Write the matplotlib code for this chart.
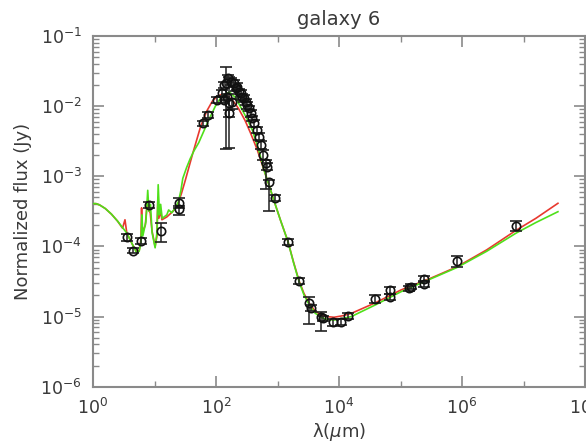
import numpy as np
import matplotlib
matplotlib.use("Agg")
import matplotlib.pyplot as plt
from matplotlib.ticker import LogLocator, LogFormatterMathtext, NullFormatter, FixedLocator

# ---------------- data (log10 values) ----------------
# observed photometry: log10(wavelength/um), log10(flux/Jy), error up/down (dex)
obs_logw = [0.56, 0.658, 0.78, 0.914, 1.105, 1.404, 1.404,
            1.79, 1.87, 2.02, 2.101, 2.127, 2.127, 2.155, 2.183, 2.193, 2.209, 2.209,
            2.237, 2.264, 2.291, 2.318, 2.346, 2.372, 2.40, 2.428, 2.454, 2.482,
            2.509, 2.536, 2.563, 2.591, 2.617, 2.661, 2.699, 2.727, 2.771, 2.808,
            2.836, 2.862, 2.955, 3.172, 3.352, 3.515, 3.543, 3.706, 3.734, 3.897,
            4.033, 4.152, 4.588, 4.837, 4.837, 5.131, 5.176, 5.376, 5.376, 5.922, 6.878]
obs_logf = [-3.87, -4.06, -3.92, -3.41, -3.78, -3.38, -3.47,
            -2.245, -2.13, -1.91, -1.817, -1.699, -1.913, -1.674, -1.866, -1.603, -1.96, -2.10,
            -1.652, -1.937, -1.674, -1.746, -1.723, -1.794, -1.817, -1.866, -1.888, -1.937,
            -1.984, -2.031, -2.102, -2.174, -2.245, -2.34, -2.436, -2.554, -2.697, -2.815,
            -2.864, -3.08, -3.31, -3.933, -4.489, -4.81, -4.88, -5.0, -5.025, -5.074,
            -5.074, -4.993, -4.75, -4.622, -4.717, -4.598, -4.574, -4.465, -4.536, -4.208, -3.705]
obs_eup = [0.05, 0.04, 0.04, 0.04, 0.11, 0.07, 0.04,
           0.04, 0.04, 0.04, 0.04, 0.04, 0.04, 0.227, 0.04, 0.05, 0.38, 0.04,
           0.05, 0.04, 0.05, 0.04, 0.05, 0.04, 0.05, 0.04, 0.05, 0.04,
           0.05, 0.04, 0.05, 0.04, 0.05, 0.04, 0.05, 0.06, 0.07, 0.05,
           0.05, 0.02, 0.04, 0.04, 0.04, 0.09, 0.04, 0.07, 0.04, 0.04,
           0.04, 0.04, 0.06, 0.05, 0.04, 0.04, 0.04, 0.04, 0.04, 0.07, 0.07]
obs_edn = [0.05, 0.04, 0.04, 0.04, 0.15, 0.07, 0.08,
           0.04, 0.04, 0.04, 0.04, 0.04, 0.04, 0.93, 0.04, 0.05, 0.64, 0.06,
           0.05, 0.10, 0.05, 0.04, 0.05, 0.04, 0.05, 0.04, 0.05, 0.04,
           0.05, 0.04, 0.05, 0.04, 0.05, 0.04, 0.05, 0.06, 0.07, 0.36,
           0.05, 0.42, 0.04, 0.04, 0.04, 0.30, 0.04, 0.20, 0.04, 0.06,
           0.04, 0.04, 0.06, 0.05, 0.04, 0.04, 0.04, 0.04, 0.04, 0.08, 0.07]

# model 1 (red)
red_logw = [0.0, 0.05, 0.11, 0.2, 0.3, 0.4, 0.48, 0.52, 0.55, 0.64, 0.71, 0.75, 0.78, 0.79, 0.80,
            0.85, 0.885, 0.90, 0.93, 0.96, 1.01, 1.04, 1.055, 1.07, 1.10, 1.12, 1.20,
            1.30, 1.38, 1.44, 1.50, 1.62, 1.75, 1.85, 1.94, 2.02, 2.10, 2.20, 2.30, 2.37,
            2.47, 2.56, 2.67, 2.78, 2.86, 2.94, 3.05, 3.17, 3.26, 3.35, 3.43, 3.515, 3.61,
            3.71, 3.80, 3.92, 4.05, 4.20, 4.6, 5.01, 5.5, 5.92, 6.4, 6.88, 7.2, 7.56]
red_logf = [-3.39, -3.39, -3.41, -3.46, -3.54, -3.64, -3.74, -3.62, -3.81, -3.97, -4.08, -4.06, -3.90, -3.45, -3.80,
            -3.70, -3.35, -3.47, -3.52, -3.78, -4.00, -3.85, -3.30, -3.60, -3.50, -3.62, -3.58,
            -3.50, -3.40, -3.24, -3.06, -2.68, -2.29, -2.07, -1.93, -1.86, -1.83, -1.86, -1.95, -2.04,
            -2.20, -2.38, -2.62, -2.91, -3.12, -3.34, -3.63, -3.93, -4.22, -4.49, -4.67, -4.81, -4.92,
            -4.98, -5.00, -5.01, -4.99, -4.955, -4.80, -4.62, -4.45, -4.29, -4.05, -3.77, -3.60, -3.385]

# model 2 (green)
grn_logw = [0.0, 0.05, 0.11, 0.2, 0.3, 0.4, 0.55, 0.64, 0.71, 0.75, 0.78, 0.795, 0.81, 0.86, 0.89,
            0.91, 0.935, 0.96, 1.01, 1.04, 1.06, 1.08, 1.10, 1.125, 1.20, 1.23, 1.28,
            1.34, 1.39, 1.43, 1.46, 1.52, 1.58, 1.64, 1.72, 1.80, 1.88, 1.99, 2.10, 2.22,
            2.32, 2.43, 2.51, 2.59, 2.68, 2.78, 2.86, 2.94, 3.05, 3.17, 3.26, 3.35, 3.43,
            3.515, 3.61, 3.71, 3.80, 3.92, 4.05, 4.20, 4.6, 5.01, 5.5, 5.92, 6.4, 6.88, 7.2, 7.56]
grn_logf = [-3.39, -3.39, -3.41, -3.46, -3.54, -3.64, -3.81, -3.97, -4.09, -4.07, -3.95, -3.55, -3.85, -3.65, -3.20,
            -3.50, -3.40, -3.80, -4.02, -3.80, -3.12, -3.55, -3.40, -3.60, -3.55, -3.48, -3.52,
            -3.45, -3.36, -3.20, -3.03, -2.88, -2.75, -2.64, -2.52, -2.36, -2.20, -2.00, -1.85, -1.80,
            -1.88, -2.06, -2.19, -2.34, -2.58, -2.91, -3.12, -3.34, -3.63, -3.93, -4.23, -4.50, -4.69,
            -4.83, -4.95, -5.01, -5.04, -5.05, -5.03, -5.00, -4.83, -4.645, -4.46, -4.30, -4.07, -3.81, -3.66, -3.505]

title = "galaxy 6"
xlabel = r"λ($\mu$m)"
ylabel = "Normalized flux (Jy)"

# ---------------- plot ----------------
W, H = 586, 443
fig = plt.figure(figsize=(W / 100, H / 100), dpi=100)
ax = fig.add_axes([93 / W, 56.3 / H, (585 - 93) / W, (386.7 - 36) / H])

axcol = "#8a8a8a"
txtcol = "#3a3a3a"

w = 10 ** np.array(red_logw)
ax.plot(w, 10 ** np.array(red_logf), color="#e8392f", lw=1.2, zorder=2)
w2 = 10 ** np.array(grn_logw)
ax.plot(w2, 10 ** np.array(grn_logf), color="#4fe01a", lw=1.2, zorder=3)

ow = 10 ** np.array(obs_logw)
of = 10 ** np.array(obs_logf)
lo = of - 10 ** (np.array(obs_logf) - np.array(obs_edn))
hi = 10 ** (np.array(obs_logf) + np.array(obs_eup)) - of
ax.errorbar(ow, of, yerr=[lo, hi], fmt="o", mfc="none", mec="#111111", mew=1.2,
            ms=6, ecolor="#222222", elinewidth=1.1, capsize=4, capthick=1.1, zorder=4)

ax.set_xscale("log")
ax.set_yscale("log")
ax.set_xlim(1, 1e8)
ax.set_ylim(1e-6, 1e-1)

ax.xaxis.set_major_locator(FixedLocator([1, 1e2, 1e4, 1e6, 1e8]))
ax.xaxis.set_major_formatter(LogFormatterMathtext())
ax.xaxis.set_minor_locator(FixedLocator([1e1, 1e3, 1e5, 1e7]))
ax.xaxis.set_minor_formatter(NullFormatter())
ax.yaxis.set_major_locator(LogLocator(base=10, numticks=10))
ax.yaxis.set_major_formatter(LogFormatterMathtext())
ax.yaxis.set_minor_locator(LogLocator(base=10, subs=np.arange(2, 10), numticks=10))
ax.yaxis.set_minor_formatter(NullFormatter())

for s in ax.spines.values():
    s.set_color(axcol)
    s.set_linewidth(1.5)
ax.tick_params(which="both", direction="in", top=True, right=True, color=axcol,
               labelcolor=txtcol, labelsize=12.5)
ax.tick_params(which="major", length=8, width=1.2, pad=8)
ax.tick_params(which="minor", length=4, width=1.0)

ax.set_title(title, fontsize=14, color=txtcol, pad=8)
ax.set_xlabel(xlabel, fontsize=13, color=txtcol, labelpad=2)
ax.set_ylabel(ylabel, fontsize=13, color=txtcol, labelpad=6)

fig.savefig("out.png", dpi=100)
